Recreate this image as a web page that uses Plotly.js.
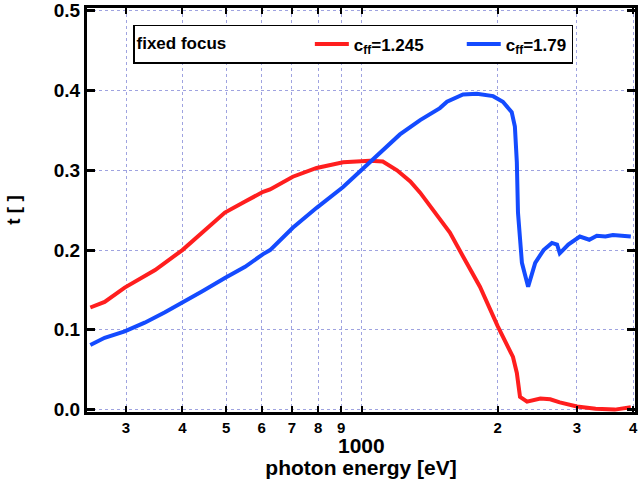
<!DOCTYPE html>
<html>
<head>
<meta charset="utf-8">
<script src="https://cdn.plot.ly/plotly-3.0.1.min.js"></script>
<style>html,body{margin:0;padding:0;background:#fff;}#chart{width:640px;height:479px;}</style>
</head>
<body>
<div id="chart"></div>
<script>
// photon energy [eV] and transmission t for c_ff = 1.245
const redX = [250, 269, 298, 348, 400, 442, 497, 551, 604, 626, 703, 794, 909, 1042, 1113, 1197, 1281, 1347, 1416, 1490, 1568, 1677, 1828, 2000, 2164, 2207, 2243, 2325, 2488, 2617, 2748, 3000, 3300, 3640, 3950];
const redY = [0.128, 0.135, 0.153, 0.175, 0.200, 0.222, 0.247, 0.261, 0.273, 0.276, 0.292, 0.303, 0.310, 0.312, 0.311, 0.300, 0.286, 0.272, 0.255, 0.238, 0.222, 0.192, 0.154, 0.105, 0.066, 0.046, 0.016, 0.010, 0.014, 0.013, 0.009, 0.004, 0.001, 0.000, 0.003];
// c_ff = 1.79
const blueX = [250, 269, 298, 330, 366, 400, 442, 497, 551, 604, 626, 703, 794, 909, 1042, 1113, 1215, 1347, 1490, 1545, 1677, 1800, 1955, 2055, 2150, 2185, 2207, 2220, 2265, 2338, 2424, 2530, 2640, 2710, 2748, 2870, 3045, 3195, 3320, 3470, 3605, 3950];
const blueY = [0.081, 0.090, 0.098, 0.109, 0.122, 0.134, 0.148, 0.165, 0.179, 0.195, 0.200, 0.228, 0.253, 0.279, 0.310, 0.326, 0.345, 0.363, 0.378, 0.386, 0.395, 0.396, 0.393, 0.386, 0.373, 0.355, 0.310, 0.247, 0.184, 0.154, 0.184, 0.200, 0.209, 0.207, 0.196, 0.207, 0.217, 0.213, 0.218, 0.217, 0.219, 0.217];
const xTickVals = [300, 400, 500, 600, 700, 800, 900, 1000, 2000, 3000, 4000];
const xTickText = ['3', '4', '5', '6', '7', '8', '9', '', '2', '3', '4'];
const seriesNames = ['c<sub>ff</sub>=1.245\u00a0\u00a0\u00a0\u00a0\u00a0\u00a0\u00a0', 'c<sub>ff</sub>=1.79'];

const F = 'Liberation Sans, Arial, sans-serif';
const traces = [
  {x: redX, y: redY, type: 'scatter', mode: 'lines', name: seriesNames[0], line: {color: 'rgb(255,30,30)', width: 4}},
  {x: blueX, y: blueY, type: 'scatter', mode: 'lines', name: seriesNames[1], line: {color: 'rgb(20,75,255)', width: 4}}
];
const layout = {
  width: 640, height: 479,
  margin: {l: 87, r: 5, t: 8, b: 67},
  paper_bgcolor: '#fff', plot_bgcolor: '#fff',
  font: {family: F, color: '#000', size: 16, weight: 'bold'},
  xaxis: {
    type: 'log', range: [Math.log10(245.8), Math.log10(4035)],
    tickmode: 'array', tickvals: xTickVals, ticktext: xTickText,
    ticks: 'inside', ticklen: 6, tickwidth: 2, tickcolor: '#000',
    showline: true, linewidth: 3, linecolor: '#000', mirror: 'ticks',
    showgrid: true, gridcolor: '#9fa3e0', griddash: 'dot', gridwidth: 1,
    tickfont: {family: F, size: 15, weight: 'bold'},
    title: {text: 'photon energy [eV]', font: {family: F, size: 21, weight: 'bold'}, standoff: 28},
    automargin: false, zeroline: false
  },
  yaxis: {
    range: [-0.003, 0.5035], dtick: 0.1, tick0: 0, tickformat: '.1f',
    ticks: 'inside', ticklen: 8, tickwidth: 3, tickcolor: '#000',
    showline: true, linewidth: 3, linecolor: '#000', mirror: 'ticks',
    showgrid: true, gridcolor: '#9fa3e0', griddash: 'dot', gridwidth: 1,
    tickfont: {family: F, size: 19, weight: 'bold'},
    title: {text: 't [ ]', font: {family: F, size: 19, weight: 'bold'}, standoff: 29},
    automargin: false, zeroline: false
  },
  showlegend: true,
  legend: {
    orientation: 'h', x: 0.084, y: 0.958, xanchor: 'left', yanchor: 'top',
    bgcolor: '#fff', bordercolor: '#000', borderwidth: 1.5,
    font: {family: F, size: 17, weight: 'bold'},
    title: {text: 'fixed focus\u00a0\u00a0\u00a0\u00a0\u00a0\u00a0\u00a0\u00a0\u00a0\u00a0\u00a0\u00a0\u00a0\u00a0\u00a0\u00a0', side: 'left', font: {family: F, size: 17, weight: 'bold'}},
    itemwidth: 34
  },
  annotations: [
    {text: '1000', xref: 'x', yref: 'paper', x: 3, y: -0.084, showarrow: false, xanchor: 'center', yanchor: 'middle', font: {family: F, size: 21, weight: 'bold', color: '#000'}}
  ]
};
Plotly.newPlot('chart', traces, layout, {displayModeBar: false, staticPlot: true});
</script>
</body>
</html>
